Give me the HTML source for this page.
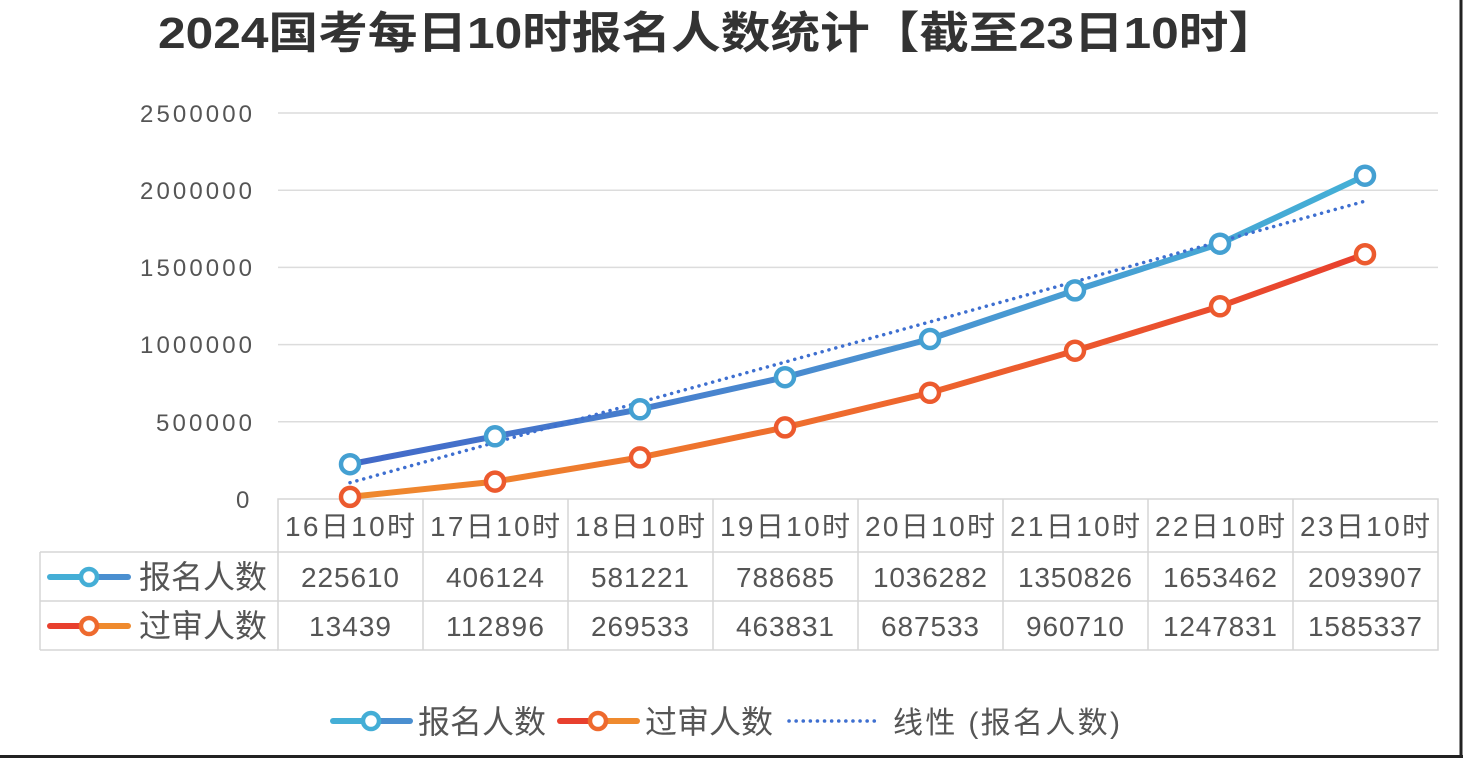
<!DOCTYPE html>
<html><head><meta charset="utf-8"><style>
html,body{margin:0;padding:0;background:#fff;}
svg{display:block;}
text{font-family:"Liberation Sans","Noto Sans CJK SC",sans-serif;}
</style></head><body>
<svg width="1463" height="758" viewBox="0 0 1463 758" xmlns="http://www.w3.org/2000/svg">
<defs>
<linearGradient id="gb" gradientUnits="userSpaceOnUse" x1="350" y1="0" x2="1365" y2="0"><stop offset="0" stop-color="#4268c8"/><stop offset="0.5" stop-color="#4a8fd0"/><stop offset="1" stop-color="#44b0d6"/></linearGradient>
<linearGradient id="go" gradientUnits="userSpaceOnUse" x1="350" y1="0" x2="1365" y2="0"><stop offset="0" stop-color="#ef8a2e"/><stop offset="0.5" stop-color="#ee6a2e"/><stop offset="1" stop-color="#e8402e"/></linearGradient>
</defs>
<rect x="0" y="0" width="1463" height="758" fill="#fff"/>
<line x1="1461" y1="0" x2="1461" y2="758" stroke="#222" stroke-width="3"/>
<line x1="0" y1="756.5" x2="1463" y2="756.5" stroke="#222" stroke-width="3"/>
<text x="158" y="48" textLength="1120" lengthAdjust="spacingAndGlyphs" font-size="44" font-weight="bold" fill="#333">2024国考每日10时报名人数统计【截至23日10时】</text>
<g stroke="#dcdcdc" stroke-width="1.5">
<line x1="278" y1="113" x2="1438" y2="113"/>
<line x1="278" y1="190.2" x2="1438" y2="190.2"/>
<line x1="278" y1="267.4" x2="1438" y2="267.4"/>
<line x1="278" y1="344.6" x2="1438" y2="344.6"/>
<line x1="278" y1="421.8" x2="1438" y2="421.8"/>
</g>
<g font-size="24" fill="#555">
<text x="140" y="122" textLength="112">2500000</text>
<text x="140" y="199" textLength="112">2000000</text>
<text x="140" y="276" textLength="112">1500000</text>
<text x="140" y="353" textLength="112">1000000</text>
<text x="156" y="431" textLength="96">500000</text>
<text x="236" y="508" textLength="16">0</text>
</g>
<g stroke="#d6d6d6" stroke-width="1.5" fill="none">
<rect x="278" y="499" width="1160" height="151"/>
<line x1="40" y1="552" x2="1438" y2="552"/>
<line x1="40" y1="601" x2="1438" y2="601"/>
<line x1="40" y1="650" x2="278" y2="650"/>
<line x1="40" y1="552" x2="40" y2="650"/>
<line x1="423" y1="499" x2="423" y2="650"/>
<line x1="568" y1="499" x2="568" y2="650"/>
<line x1="713" y1="499" x2="713" y2="650"/>
<line x1="858" y1="499" x2="858" y2="650"/>
<line x1="1003" y1="499" x2="1003" y2="650"/>
<line x1="1148" y1="499" x2="1148" y2="650"/>
<line x1="1293" y1="499" x2="1293" y2="650"/>
</g>
<g font-size="28" fill="#555" text-anchor="middle">
<text x="350" y="536" textLength="130">16日10时</text><text x="495" y="536" textLength="130">17日10时</text><text x="640" y="536" textLength="130">18日10时</text><text x="785" y="536" textLength="130">19日10时</text><text x="930" y="536" textLength="130">20日10时</text><text x="1075" y="536" textLength="130">21日10时</text><text x="1220" y="536" textLength="130">22日10时</text><text x="1365" y="536" textLength="130">23日10时</text>
</g>
<g font-size="28" fill="#555" text-anchor="middle">
<text x="350" y="587" textLength="98">225610</text><text x="495" y="587" textLength="98">406124</text><text x="640" y="587" textLength="98">581221</text><text x="785" y="587" textLength="98">788685</text><text x="930" y="587" textLength="114">1036282</text><text x="1075" y="587" textLength="114">1350826</text><text x="1220" y="587" textLength="114">1653462</text><text x="1365" y="587" textLength="114">2093907</text>
<text x="350" y="636" textLength="82">13439</text><text x="495" y="636" textLength="98">112896</text><text x="640" y="636" textLength="98">269533</text><text x="785" y="636" textLength="98">463831</text><text x="930" y="636" textLength="98">687533</text><text x="1075" y="636" textLength="98">960710</text><text x="1220" y="636" textLength="114">1247831</text><text x="1365" y="636" textLength="114">1585337</text>
</g>
<g font-size="32" fill="#555">
<text x="139" y="588">报名人数</text>
<text x="139" y="637">过审人数</text>
</g>
<line x1="50" y1="577" x2="89" y2="577" stroke="#44aed6" stroke-width="6" stroke-linecap="round"/>
<line x1="89" y1="577" x2="128" y2="577" stroke="#4a8fd0" stroke-width="6" stroke-linecap="round"/>
<circle cx="89" cy="577" r="8" fill="#fff" stroke="#44aed6" stroke-width="4.5"/>
<line x1="50" y1="626" x2="89" y2="626" stroke="#e8402e" stroke-width="6" stroke-linecap="round"/>
<line x1="89" y1="626" x2="128" y2="626" stroke="#ef8a2e" stroke-width="6" stroke-linecap="round"/>
<circle cx="89" cy="626" r="8" fill="#fff" stroke="#ee6a2e" stroke-width="4.5"/>
<polyline points="350,464.2 495,436.3 640,409.3 785,377.2 930,339 1075,290.4 1220,243.7 1365,175.7" fill="none" stroke="url(#gb)" stroke-width="6" stroke-linejoin="round"/>
<polyline points="350,496.9 495,481.6 640,457.4 785,427.4 930,392.8 1075,350.7 1220,306.3 1365,254.2" fill="none" stroke="url(#go)" stroke-width="6" stroke-linejoin="round"/>
<line x1="350" y1="482.7" x2="1365" y2="201.2" stroke="#3e6fd0" stroke-width="3.5" stroke-dasharray="0.1 7" stroke-linecap="round"/>
<g fill="#fff" stroke-width="4.5">
<circle cx="350" cy="464.2" r="9" stroke="#44a0d2"/><circle cx="495" cy="436.3" r="9" stroke="#44a0d2"/><circle cx="640" cy="409.3" r="9" stroke="#44a0d2"/><circle cx="785" cy="377.2" r="9" stroke="#44a0d2"/><circle cx="930" cy="339" r="9" stroke="#44a0d2"/><circle cx="1075" cy="290.4" r="9" stroke="#44a0d2"/><circle cx="1220" cy="243.7" r="9" stroke="#44a0d2"/><circle cx="1365" cy="175.7" r="9" stroke="#44a0d2"/>
<circle cx="350" cy="496.9" r="9" stroke="#ec5a2e"/><circle cx="495" cy="481.6" r="9" stroke="#ec5a2e"/><circle cx="640" cy="457.4" r="9" stroke="#ec5a2e"/><circle cx="785" cy="427.4" r="9" stroke="#ec5a2e"/><circle cx="930" cy="392.8" r="9" stroke="#ec5a2e"/><circle cx="1075" cy="350.7" r="9" stroke="#ec5a2e"/><circle cx="1220" cy="306.3" r="9" stroke="#ec5a2e"/><circle cx="1365" cy="254.2" r="9" stroke="#ec5a2e"/>
</g>
<line x1="333" y1="721" x2="371" y2="721" stroke="#44aed6" stroke-width="6" stroke-linecap="round"/>
<line x1="371" y1="721" x2="410" y2="721" stroke="#4a8fd0" stroke-width="6" stroke-linecap="round"/>
<circle cx="371" cy="721" r="8" fill="#fff" stroke="#44aed6" stroke-width="4.5"/>
<text x="418" y="733" font-size="32" fill="#555">报名人数</text>
<line x1="560" y1="721" x2="598" y2="721" stroke="#e8402e" stroke-width="6" stroke-linecap="round"/>
<line x1="598" y1="721" x2="637" y2="721" stroke="#ef8a2e" stroke-width="6" stroke-linecap="round"/>
<circle cx="598" cy="721" r="8" fill="#fff" stroke="#ee6a2e" stroke-width="4.5"/>
<text x="645" y="733" font-size="32" fill="#555">过审人数</text>
<line x1="789" y1="721" x2="877" y2="721" stroke="#3e6fd0" stroke-width="3.5" stroke-dasharray="0.1 7" stroke-linecap="round"/>
<text x="893" y="733" font-size="30" fill="#555" textLength="227">线性 (报名人数)</text>
</svg>
</body></html>
